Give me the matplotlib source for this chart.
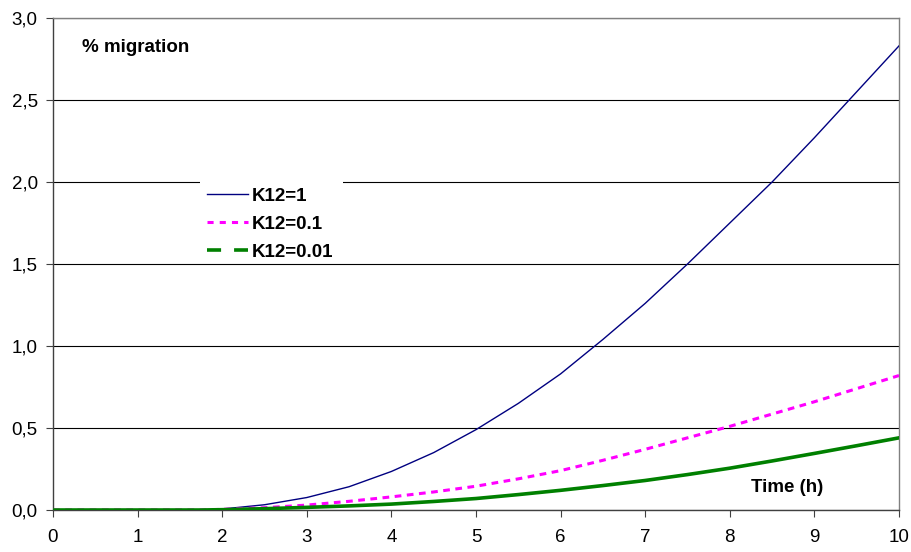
import matplotlib
matplotlib.use("Agg")
import matplotlib.pyplot as plt
from matplotlib.lines import Line2D
from matplotlib.patches import Rectangle
from matplotlib.ticker import FuncFormatter

plt.rcParams['font.family'] = ['Liberation Sans', 'DejaVu Sans']

time_h = [0, 0.5, 1, 1.5, 1.75, 2, 2.5, 3, 3.5, 4, 4.5, 5, 5.5, 6, 6.5, 7, 7.5, 8, 8.5, 9, 9.5, 10]
k12_1 = [0, 0, 0, 0, 0, 0.006, 0.032, 0.076, 0.142, 0.235, 0.35, 0.49, 0.65, 0.83, 1.04, 1.26, 1.5, 1.75, 2.0, 2.27, 2.55, 2.83]
k12_01 = [0, 0, 0, 0, 0, 0.004, 0.014, 0.03, 0.053, 0.08, 0.11, 0.145, 0.19, 0.24, 0.303, 0.37, 0.44, 0.51, 0.585, 0.66, 0.74, 0.82]
k12_001 = [0, 0, 0, 0, 0, 0.002, 0.008, 0.016, 0.025, 0.036, 0.052, 0.07, 0.094, 0.12, 0.149, 0.18, 0.216, 0.255, 0.299, 0.345, 0.392, 0.44]
labels = ["K12=1", "K12=0.1", "K12=0.01"]

W, H = 911, 552
L, R, T, B = 53, 899, 18, 510

fig = plt.figure(figsize=(9.11, 5.52), dpi=100)
ax = fig.add_axes([L/W, 1-B/H, (R-L)/W, (B-T)/H])

ax.set_xlim(0, 10)
ax.set_ylim(0, 3.0)
ax.set_xticks(range(0, 11))
ax.set_yticks([0, 0.5, 1.0, 1.5, 2.0, 2.5, 3.0])
ax.yaxis.set_major_formatter(FuncFormatter(lambda v, p: f"{v:.1f}".replace('.', ',')))
ax.grid(axis='y', color='black', linewidth=0.8)
ax.set_axisbelow(True)

ax.plot(time_h, k12_1, color='#000080', linewidth=1.0, zorder=3)
ax.plot(time_h, k12_01, color='#ff00ff', linewidth=2.2, linestyle=(0, (2.2, 1.8)), zorder=3)
ax.plot(time_h, k12_001, color='#008000', linewidth=2.6, zorder=4)

for side in ['top', 'right']:
    ax.spines[side].set_color('#808080')
    ax.spines[side].set_linewidth(1.0)
for side in ['left', 'bottom']:
    ax.spines[side].set_color('#404040')
    ax.spines[side].set_linewidth(1.0)

ax.tick_params(axis='both', direction='out', length=5, width=0.8, color='#404040',
               labelsize=13.5, labelcolor='black')
ax.tick_params(axis='x', pad=9)
ax.tick_params(axis='y', pad=6)

# white legend background box (in axes fraction coordinates)
bx0, bx1, by0, by1 = 200, 343, 175, 262
ax.add_patch(Rectangle(((bx0-L)/(R-L), 1-(by1-T)/(B-T)), (bx1-bx0)/(R-L), (by1-by0)/(B-T),
                       transform=ax.transAxes, facecolor='white', edgecolor='none', zorder=1))

handles = [
    Line2D([0], [0], color='#000080', linewidth=1.0),
    Line2D([0], [0], color='#ff00ff', linewidth=2.2, linestyle=(0, (2.0, 2.0))),
    Line2D([0], [0], color='#008000', linewidth=2.6, linestyle=(0, (3.9, 3.6))),
]
leg = ax.legend(handles, labels, loc='upper left', bbox_to_anchor=((207-L)/(R-L), 1-(187.5-T)/(B-T)),
                frameon=False,
                prop={'weight': 'bold', 'size': 13.5}, handlelength=2.2, handletextpad=0.2,
                labelspacing=0.58, borderpad=0, borderaxespad=0)

fig.text(82/W, 1-48/H, "% migration", fontsize=13.5, fontweight='bold', va='center', ha='left')
fig.text(787/W, 1-487/H, "Time (h)", fontsize=13.5, fontweight='bold', va='center', ha='center')

fig.savefig("out.png", dpi=100)
